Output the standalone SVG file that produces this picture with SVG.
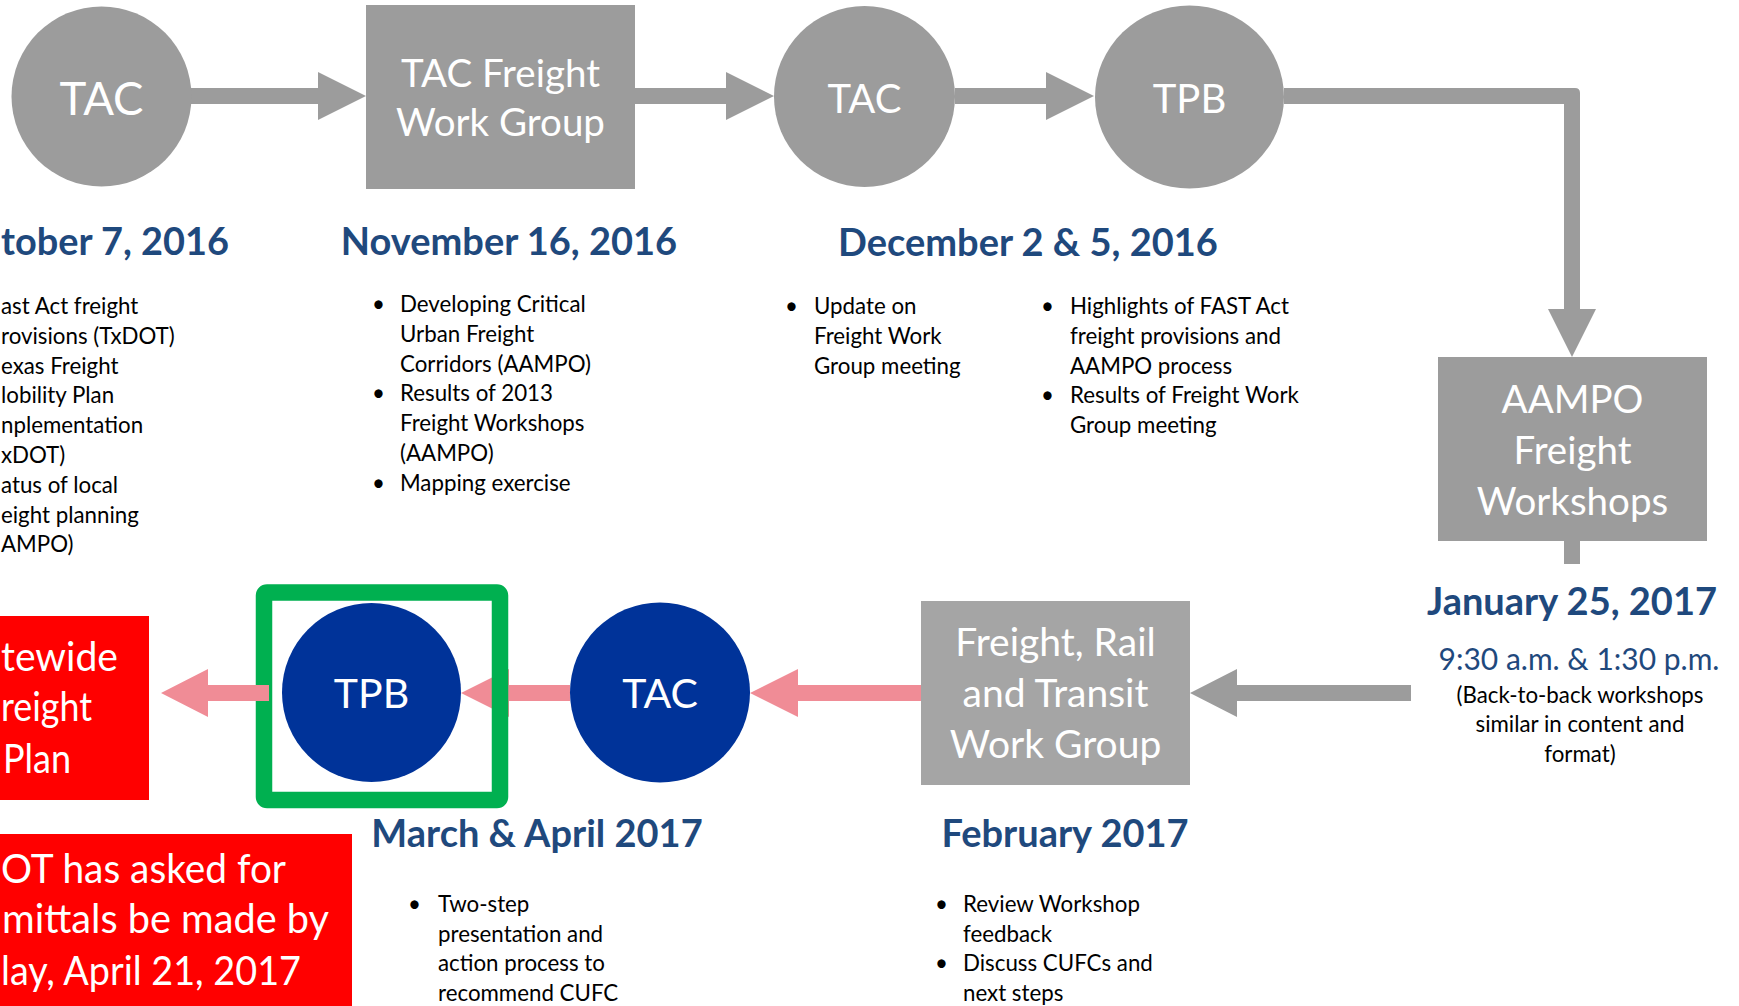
<svg xmlns="http://www.w3.org/2000/svg" width="1739" height="1006" viewBox="0 0 1739 1006">
<style>
.g{fill:#9C9C9C}
.gl{fill:#A5A5A5}
.pk{fill:#F08C96}
.bl{fill:#003399}
.rd{fill:#FF0000}
.nt{font-family:Lato,"Liberation Sans",sans-serif;fill:#fff;text-anchor:middle}
.ns{font-family:Lato,"Liberation Sans",sans-serif;fill:#fff;font-size:40px}
.dt{font-family:Lato,"Liberation Sans",sans-serif;font-weight:bold;font-size:38px;fill:#1F497D}
.bt{font-family:Lato,"Liberation Sans",sans-serif;font-size:22.3px;fill:#000}
.ct{text-anchor:middle}
.en{text-anchor:end}
</style>
<rect width="1739" height="1006" fill="#fff"/>
<g id="connectors">
<polygon class="g" points="191,88 318,88 318,72 366,96 318,120 318,104 191,104"/>
<polygon class="g" points="635,88 726,88 726,72 774,96 726,120 726,104 635,104"/>
<polygon class="g" points="955,88 1046,88 1046,72 1094,96 1046,120 1046,104 955,104"/>
<path class="g" d="M1284,88 H1575 Q1580,88 1580,93 V309 H1596 L1572,357 L1548,309 H1564 V104 H1284 Z"/>
<rect class="g" x="1564" y="541" width="16" height="23"/>
<polygon class="g" points="1411,685 1237,685 1237,669 1190,693 1237,717 1237,701 1411,701"/>
<polygon class="pk" points="921,685 798,685 798,669 750,693 798,717 798,701 921,701"/>
<polygon class="pk" points="570,685 509,685 509,669 461,693 509,717 509,701 570,701"/>
</g>
<g id="oct">
<text class="dt" x="1" y="255" textLength="228" lengthAdjust="spacingAndGlyphs">tober 7, 2016</text>
<text class="bt" x="1" y="314">ast Act freight</text>
<text class="bt" x="1" y="344">rovisions (TxDOT)</text>
<text class="bt" x="1" y="374">exas Freight</text>
<text class="bt" x="1" y="403">lobility Plan</text>
<text class="bt" x="1" y="433">nplementation</text>
<text class="bt" x="1" y="463">xDOT)</text>
<text class="bt" x="1" y="493">atus of local</text>
<text class="bt" x="1" y="523">eight planning</text>
<text class="bt" x="1" y="552">AMPO)</text>
</g>
<g id="tac1">
<circle class="g" cx="101.5" cy="96.5" r="90"/>
<text class="nt" x="101.5" y="115" font-size="45.5">TAC</text>
</g>
<g id="tacfwg">
<rect class="g" x="366" y="5" width="269" height="184"/>
<text class="nt" x="500.5" y="87" font-size="38.5">TAC Freight</text>
<text class="nt" x="500.5" y="136" font-size="38.5">Work Group</text>
</g>
<g id="nov">
<text class="dt ct" x="509" y="255">November 16, 2016</text>
<text class="bt" x="372" y="312">•</text>
<text class="bt" x="400" y="312">Developing Critical</text>
<text class="bt" x="400" y="342">Urban Freight</text>
<text class="bt" x="400" y="372">Corridors (AAMPO)</text>
<text class="bt" x="372" y="401">•</text>
<text class="bt" x="400" y="401">Results of 2013</text>
<text class="bt" x="400" y="431">Freight Workshops</text>
<text class="bt" x="400" y="461">(AAMPO)</text>
<text class="bt" x="372" y="491">•</text>
<text class="bt" x="400" y="491">Mapping exercise</text>
</g>
<g id="tac2">
<circle class="g" cx="864.5" cy="96.5" r="90.5"/>
<text class="nt" x="864.5" y="113" font-size="40">TAC</text>
</g>
<g id="tpb1">
<ellipse class="g" cx="1189.5" cy="97" rx="94.5" ry="91.5"/>
<text class="nt" x="1189.5" y="113" font-size="40">TPB</text>
</g>
<g id="dec">
<text class="dt ct" x="1028" y="256">December 2 &amp; 5, 2016</text>
<text class="bt" x="785" y="314">•</text>
<text class="bt" x="814" y="314">Update on</text>
<text class="bt" x="814" y="344">Freight Work</text>
<text class="bt" x="814" y="374">Group meeting</text>
<text class="bt" x="1041" y="314">•</text>
<text class="bt" x="1070" y="314">Highlights of FAST Act</text>
<text class="bt" x="1070" y="344">freight provisions and</text>
<text class="bt" x="1070" y="374">AAMPO process</text>
<text class="bt" x="1041" y="403">•</text>
<text class="bt" x="1070" y="403">Results of Freight Work</text>
<text class="bt" x="1070" y="433">Group meeting</text>
</g>
<g id="aampo">
<rect class="g" x="1438" y="357" width="269" height="184"/>
<text class="nt" x="1572.5" y="413" font-size="38.5">AAMPO</text>
<text class="nt" x="1572.5" y="464" font-size="38.5">Freight</text>
<text class="nt" x="1572.5" y="515" font-size="38.5">Workshops</text>
</g>
<g id="jan">
<text class="dt ct" x="1572" y="615">January 25, 2017</text>
<text class="ct" x="1579" y="670" font-family="Lato,'Liberation Sans',sans-serif" font-size="30" fill="#1F497D">9:30 a.m. &amp; 1:30 p.m.</text>
<text class="bt ct" x="1580" y="703">(Back-to-back workshops</text>
<text class="bt ct" x="1580" y="732">similar in content and</text>
<text class="bt ct" x="1580" y="762">format)</text>
</g>
<g id="frtwg">
<rect class="gl" x="921" y="601" width="269" height="184"/>
<text class="nt" x="1055.5" y="656" font-size="39">Freight, Rail</text>
<text class="nt" x="1055.5" y="707" font-size="39">and Transit</text>
<text class="nt" x="1055.5" y="758" font-size="39">Work Group</text>
</g>
<g id="feb">
<text class="dt ct" x="1065" y="847">February 2017</text>
<text class="bt" x="935" y="912">•</text>
<text class="bt" x="963" y="912">Review Workshop</text>
<text class="bt" x="963" y="942">feedback</text>
<text class="bt" x="935" y="971">•</text>
<text class="bt" x="963" y="971">Discuss CUFCs and</text>
<text class="bt" x="963" y="1001">next steps</text>
</g>
<g id="tac3">
<circle class="bl" cx="660" cy="692.5" r="90"/>
<text class="nt" x="660" y="708" font-size="41">TAC</text>
</g>
<g id="tpb2">
<circle class="bl" cx="371.5" cy="692.5" r="89.5"/>
<text class="nt" x="371.5" y="708" font-size="41">TPB</text>
</g>
<g id="highlight">
<rect x="264" y="592.5" width="236" height="207.5" rx="3" fill="none" stroke="#00B050" stroke-width="16.5" stroke-linejoin="round"/>
</g>
<g id="connectors-top">
<polygon class="pk" points="269,685 208,685 208,669 161,693 208,717 208,701 269,701"/>
</g>
<g id="mar">
<text class="dt ct" x="537" y="847">March &amp; April 2017</text>
<text class="bt" x="408" y="912">•</text>
<text class="bt" x="438" y="912">Two-step</text>
<text class="bt" x="438" y="942">presentation and</text>
<text class="bt" x="438" y="971">action process to</text>
<text class="bt" x="438" y="1001">recommend CUFC</text>
</g>
<g id="sfp">
<rect class="rd" x="0" y="616" width="149" height="184"/>
<text class="ns" x="1" y="671" textLength="117" lengthAdjust="spacingAndGlyphs">tewide</text>
<text class="ns" x="1" y="721" textLength="91" lengthAdjust="spacingAndGlyphs">reight</text>
<text class="ns" x="3" y="773" textLength="68" lengthAdjust="spacingAndGlyphs">Plan</text>
</g>
<g id="note">
<rect class="rd" x="0" y="834" width="352" height="172"/>
<text class="ns" x="1" y="883" textLength="285" lengthAdjust="spacingAndGlyphs">OT has asked for</text>
<text class="ns" x="2" y="933" textLength="327" lengthAdjust="spacingAndGlyphs">mittals be made by</text>
<text class="ns" x="1" y="985" textLength="300" lengthAdjust="spacingAndGlyphs">lay, April 21, 2017</text>
</g>
</svg>
